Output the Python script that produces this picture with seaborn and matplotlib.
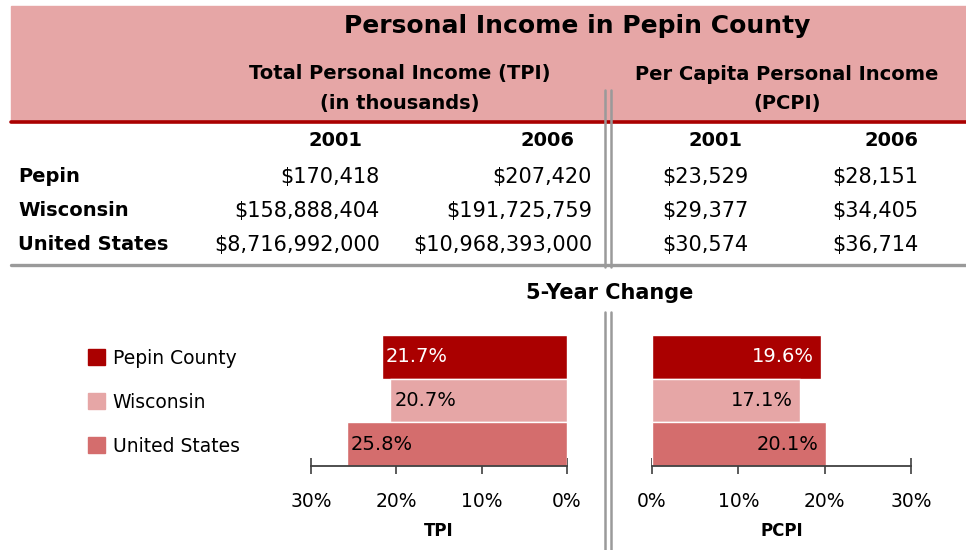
import matplotlib
matplotlib.use('Agg')
import matplotlib.pyplot as plt
import seaborn as sns
import pandas as pd
from matplotlib.lines import Line2D
from matplotlib.patches import Rectangle, Patch

# table data
regions = ['Pepin', 'Wisconsin', 'United States']
legend_labels = ['Pepin County', 'Wisconsin', 'United States']
years = ['2001', '2006']
tpi_2001 = [170418, 158888404, 8716992000]
tpi_2006 = [207420, 191725759, 10968393000]
pcpi_2001 = [23529, 29377, 30574]
pcpi_2006 = [28151, 34405, 36714]

# 5-year change (%)
tpi_change = [21.7, 20.7, 25.8]
pcpi_change = [19.6, 17.1, 20.1]
ticks = [0, 10, 20, 30]

colors = ['#AA0000', '#E6A6A6', '#D46D6D']
label_colors = ['white', 'black', 'black']

sns.set_style('white')
plt.rcParams['font.family'] = ['DejaVu Sans']
plt.rcParams['text.color'] = 'black'
plt.rcParams['axes.labelcolor'] = 'black'
plt.rcParams['xtick.color'] = 'black'

W, H = 966, 550
fig = plt.figure(figsize=(W / 100, H / 100), dpi=100)


def fx(x):
    return x / W


def fy(y):
    return 1 - y / H


# header band and rules
fig.patches.append(Rectangle((fx(11), fy(121)), fx(966) - fx(11), fy(6) - fy(121),
                             transform=fig.transFigure, color='#E6A6A6', zorder=0))
fig.add_artist(Line2D([fx(11), 1], [fy(122.5)] * 2, color='#AA0000', lw=2.6))
fig.add_artist(Line2D([fx(11), 1], [fy(265.5)] * 2, color='#9A9A9A', lw=2.4))
for xx in [605, 611]:
    fig.add_artist(Line2D([fx(xx)] * 2, [fy(90), fy(267)], color='#9A9A9A', lw=1.8))
    fig.add_artist(Line2D([fx(xx)] * 2, [fy(312), 0], color='#9A9A9A', lw=1.8))

fig.text(fx(577), fy(26), 'Personal Income in Pepin County',
         weight='bold', fontsize=18, ha='center', va='center')
fig.text(fx(400), fy(74), 'Total Personal Income (TPI)',
         weight='bold', fontsize=14, ha='center', va='center')
fig.text(fx(400), fy(104), '(in thousands)',
         weight='bold', fontsize=14, ha='center', va='center')
fig.text(fx(787), fy(74), 'Per Capita Personal Income',
         weight='bold', fontsize=14, ha='center', va='center')
fig.text(fx(787), fy(104), '(PCPI)',
         weight='bold', fontsize=14, ha='center', va='center')

# table
header_right = [362, 575, 742, 918]
value_right = [380, 592, 748, 918]
for xr, yr in zip(header_right, years * 2):
    fig.text(fx(xr), fy(141), yr, weight='bold', fontsize=14, ha='right', va='center')

row_y = [177, 211, 245]
columns = [tpi_2001, tpi_2006, pcpi_2001, pcpi_2006]
for i, name in enumerate(regions):
    fig.text(fx(18), fy(row_y[i]), name, weight='bold',
             fontsize=14, ha='left', va='center')
    for xr, col in zip(value_right, columns):
        fig.text(fx(xr), fy(row_y[i]), f'${col[i]:,}', fontsize=15,
                 ha='right', va='center')

fig.text(fx(610), fy(293), '5-Year Change', weight='bold', fontsize=15,
         ha='center', va='center')

# bar charts
df = pd.DataFrame({'region': legend_labels, 'TPI': tpi_change, 'PCPI': pcpi_change})

ax1 = fig.add_axes([fx(311), fy(466), fx(567) - fx(311), fy(335) - fy(466)])
ax2 = fig.add_axes([fx(652), fy(466), fx(911) - fx(652), fy(335) - fy(466)])

for ax, col, side in [(ax1, 'TPI', 'left'), (ax2, 'PCPI', 'right')]:
    sns.barplot(data=df, x=col, y='region', hue='region', palette=colors,
                orient='h', width=1.0, saturation=1, legend=False, ax=ax)
    ax.set_xlim(0, 30)
    ax.set_ylim(2.5, -0.5)
    ax.set_xticks(ticks)
    ax.set_xticklabels([f'{t}%' for t in ticks])
    ax.set_yticks([])
    ax.set_ylabel('')
    ax.set_xlabel(col, weight='bold', fontsize=12, labelpad=8)
    for s in ['top', 'left', 'right']:
        ax.spines[s].set_visible(False)
    ax.spines['bottom'].set_color('#404040')
    ax.spines['bottom'].set_linewidth(1.3)
    ax.tick_params(axis='x', direction='inout', length=12, width=1.2,
                   color='#404040', labelcolor='black', labelsize=13.5, pad=13, bottom=True)
    ax.set_facecolor('none')
    for i, v in enumerate(df[col]):
        off = 3 if side == 'left' else -5
        ax.annotate(f'{v}%', xy=(v, i), xytext=(off, 0), textcoords='offset points',
                    ha=side, va='center', fontsize=14, color=label_colors[i])

ax1.invert_xaxis()

handles = [Patch(color=c) for c in colors]
fig.legend(handles, legend_labels, loc='upper left', bbox_to_anchor=(fx(80), fy(341)),
           frameon=False, fontsize=13.5, handlelength=0.95, handleheight=0.95,
           handletextpad=0.4, labelspacing=1.34, borderaxespad=0)

fig.savefig('out.png', dpi=100)
